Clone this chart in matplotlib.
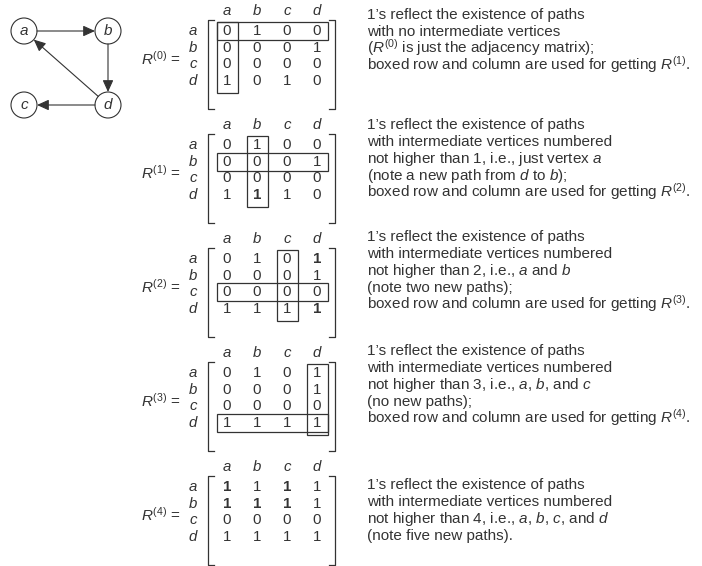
import matplotlib.pyplot as plt
from matplotlib.patches import Circle, Rectangle, FancyArrowPatch
import numpy as np

plt.rcParams['font.family'] = ['Liberation Sans', 'DejaVu Sans']
plt.rcParams['mathtext.fontset'] = 'custom'
plt.rcParams['mathtext.rm'] = 'Liberation Sans'
plt.rcParams['mathtext.it'] = 'Liberation Sans:italic'
plt.rcParams['mathtext.bf'] = 'Liberation Sans:bold'

# --- data ---
vertices = ['a', 'b', 'c', 'd']
edges = [('a', 'b'), ('b', 'd'), ('d', 'a'), ('d', 'c')]

R0 = [[0, 1, 0, 0], [0, 0, 0, 1], [0, 0, 0, 0], [1, 0, 1, 0]]
R1 = [[0, 1, 0, 0], [0, 0, 0, 1], [0, 0, 0, 0], [1, 1, 1, 0]]
R2 = [[0, 1, 0, 1], [0, 0, 0, 1], [0, 0, 0, 0], [1, 1, 1, 1]]
R3 = [[0, 1, 0, 1], [0, 0, 0, 1], [0, 0, 0, 0], [1, 1, 1, 1]]
R4 = [[1, 1, 1, 1], [1, 1, 1, 1], [0, 0, 0, 0], [1, 1, 1, 1]]
matrices = [R0, R1, R2, R3, R4]

# new 1's (printed in bold)
new_ones = [[], [(3, 1)], [(0, 3), (3, 3)], [], [(0, 0), (0, 2), (1, 0), (1, 1), (1, 2)]]
# boxed row/column index per matrix (None = no box)
boxed = [0, 1, 2, 3, None]

captions = [
    ["1’s reflect the existence of paths",
     "with no intermediate vertices",
     "($R^{(0)}$ is just the adjacency matrix);",
     "boxed row and column are used for getting $R^{(1)}$."],
    ["1’s reflect the existence of paths",
     "with intermediate vertices numbered",
     "not higher than 1, i.e., just vertex $a$",
     "(note a new path from $d$ to $b$);",
     "boxed row and column are used for getting $R^{(2)}$."],
    ["1’s reflect the existence of paths",
     "with intermediate vertices numbered",
     "not higher than 2, i.e., $a$ and $b$",
     "(note two new paths);",
     "boxed row and column are used for getting $R^{(3)}$."],
    ["1’s reflect the existence of paths",
     "with intermediate vertices numbered",
     "not higher than 3, i.e., $a$, $b$, and $c$",
     "(no new paths);",
     "boxed row and column are used for getting $R^{(4)}$."],
    ["1’s reflect the existence of paths",
     "with intermediate vertices numbered",
     "not higher than 4, i.e., $a$, $b$, $c$, and $d$",
     "(note five new paths)."],
]

# --- layout ---
node_xy = {'a': (24, 31), 'b': (108, 31), 'c': (24, 105), 'd': (108, 105)}
node_r = 13
col_x = [227, 257, 287, 317]
row_lbl_x = 193
row_step = 16.6
mat_y0 = [31 + 114 * k for k in range(5)]
cap_y0 = [14, 124, 236, 350, 484]
cap_step = 16.9
fs = 11
fs_cell = 10.8
ink = '#333333'

fig = plt.figure(figsize=(7.02, 5.66), dpi=100)
ax = fig.add_axes([0, 0, 1, 1])
ax.set_xlim(0, 702)
ax.set_ylim(566, 0)
ax.axis('off')

# graph
for v, (x, y) in node_xy.items():
    ax.add_patch(Circle((x, y), node_r, fill=False, lw=0.8, ec=ink))
    ax.text(x, y, v, fontsize=fs, style='italic', ha='center', va='center', color=ink)
for u, v in edges:
    p, q = np.array(node_xy[u], float), np.array(node_xy[v], float)
    d = (q - p) / np.hypot(*(q - p))
    a = FancyArrowPatch(p + d * node_r, q - d * node_r,
                        arrowstyle='-|>,head_length=0.55,head_width=0.25',
                        mutation_scale=13, shrinkA=0, shrinkB=0,
                        lw=0.8, color=ink)
    ax.add_patch(a)

# matrices
for k, M in enumerate(matrices):
    y0 = mat_y0[k]
    ys = [y0 + row_step * i for i in range(4)]
    for j, v in enumerate(vertices):
        ax.text(col_x[j], y0 - 20, v, fontsize=fs_cell, style='italic',
                ha='center', va='center', color=ink)
        ax.text(row_lbl_x, ys[j], v, fontsize=fs_cell, style='italic',
                ha='center', va='center', color=ink)
    for i in range(4):
        for j in range(4):
            bold = (i, j) in new_ones[k]
            ax.text(col_x[j], ys[i], str(M[i][j]), fontsize=fs_cell,
                    fontweight='bold' if bold else 'normal',
                    ha='center', va='center', color=ink)
    # brackets
    top, bot = y0 - 11, ys[3] + 28
    lx, rx, serif = 208, 335, 6
    ax.plot([lx + serif, lx, lx, lx + serif], [top, top, bot, bot], color=ink, lw=0.9)
    ax.plot([rx - serif, rx, rx, rx - serif], [top, top, bot, bot], color=ink, lw=0.9)
    # label
    ax.text(181, (ys[1] + ys[2]) / 2 + 9, rf'$R^{{({k})}}$ =', fontsize=fs,
            ha='right', va='baseline', color=ink)
    # boxes
    b = boxed[k]
    if b is not None:
        ax.add_patch(Rectangle((col_x[b] - 10.5, y0 - 9.5), 21, ys[3] - y0 + 21.5,
                               fill=False, lw=0.9, ec=ink))
        ax.add_patch(Rectangle((col_x[0] - 10.5, ys[b] - 9), col_x[3] - col_x[0] + 21, 18,
                               fill=False, lw=0.9, ec=ink))

# captions
for k, lines in enumerate(captions):
    for i, line in enumerate(lines):
        ax.text(367, cap_y0[k] + i * cap_step + 5, line, fontsize=fs,
                ha='left', va='baseline', color=ink)

fig.savefig('out.png', dpi=100)
